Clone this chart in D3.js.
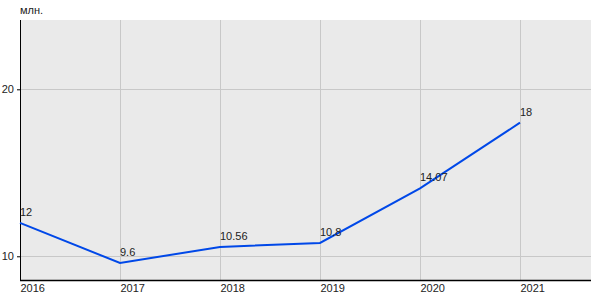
<!DOCTYPE html>
<html lang="ru">
<head>
  <meta charset="UTF-8">
  <title>млн.</title>
  <script src="https://d3js.org/d3.v7.min.js"></script>
  <style>
    body { margin: 0; padding: 0; background: #fff; }
    svg text { font-family: "Liberation Sans", Arial, sans-serif; font-size: 11px; fill: #222; }
  </style>
</head>
<body>
  <div id="chart"></div>
  <script>
    const years = [2016, 2017, 2018, 2019, 2020, 2021];
    const values = [12, 9.6, 10.56, 10.8, 14.07, 18];
    const labels = ["12", "9.6", "10.56", "10.8", "14.07", "18"];
    const yTicks = [10, 20];
    const unit = "млн.";

    const width = 600, height = 300;
    const plot = { left: 20, top: 20, right: 591, bottom: 280 };

    const svg = d3.select("#chart").append("svg")
      .attr("width", width)
      .attr("height", height);

    const x = d3.scaleLinear()
      .domain([2016, 2021.71])
      .range([plot.left, plot.right]);

    const y = d3.scaleLinear()
      .domain([8.58, 24.15])
      .range([plot.bottom, plot.top]);

    // background
    svg.append("rect")
      .attr("x", plot.left)
      .attr("y", plot.top)
      .attr("width", plot.right - plot.left)
      .attr("height", plot.bottom - plot.top)
      .attr("fill", "#eaeaea");

    // grid
    svg.append("g")
      .selectAll("line")
      .data(years.slice(1))
      .join("line")
      .attr("x1", d => Math.round(x(d)) + 0.5)
      .attr("x2", d => Math.round(x(d)) + 0.5)
      .attr("y1", plot.top)
      .attr("y2", plot.bottom)
      .attr("stroke", "#c8c8c8");

    svg.append("g")
      .selectAll("line")
      .data(yTicks)
      .join("line")
      .attr("x1", plot.left)
      .attr("x2", plot.right)
      .attr("y1", d => Math.round(y(d)) + 0.5)
      .attr("y2", d => Math.round(y(d)) + 0.5)
      .attr("stroke", "#c8c8c8");

    // axes
    const yAxis = svg.append("g")
      .attr("transform", `translate(${plot.left},0)`)
      .call(d3.axisLeft(y).tickValues(yTicks).tickSize(3).tickPadding(3));
    yAxis.select(".domain").attr("stroke", "#000").attr("d", `M0.5,${plot.top}V${plot.bottom}`);
    yAxis.selectAll("text").style("font-size", "11px").attr("fill", "#222");

    const xAxis = svg.append("g")
      .attr("transform", `translate(0,${plot.bottom})`)
      .call(d3.axisBottom(x).tickValues(years).tickFormat(d3.format("d")).tickSize(0).tickPadding(4));
    xAxis.select(".domain").attr("stroke", "#000").attr("stroke-width", 1.5)
      .attr("d", `M${plot.left},0.5H${plot.right}`);
    xAxis.selectAll("text").attr("text-anchor", "start").style("font-size", "11px").attr("fill", "#222");

    // unit label
    svg.append("text")
      .attr("x", plot.left)
      .attr("y", 14)
      .text(unit);

    // line
    const data = years.map((yr, i) => ({ year: yr, value: values[i], label: labels[i] }));

    svg.append("path")
      .datum(data)
      .attr("fill", "none")
      .attr("stroke", "#0048e8")
      .attr("stroke-width", 2)
      .attr("d", d3.line()
        .x(d => x(d.year))
        .y(d => y(d.value)));

    svg.append("g")
      .selectAll("text")
      .data(data)
      .join("text")
      .attr("x", d => x(d.year))
      .attr("y", d => y(d.value) - 7)
      .text(d => d.label);
  </script>
</body>
</html>
